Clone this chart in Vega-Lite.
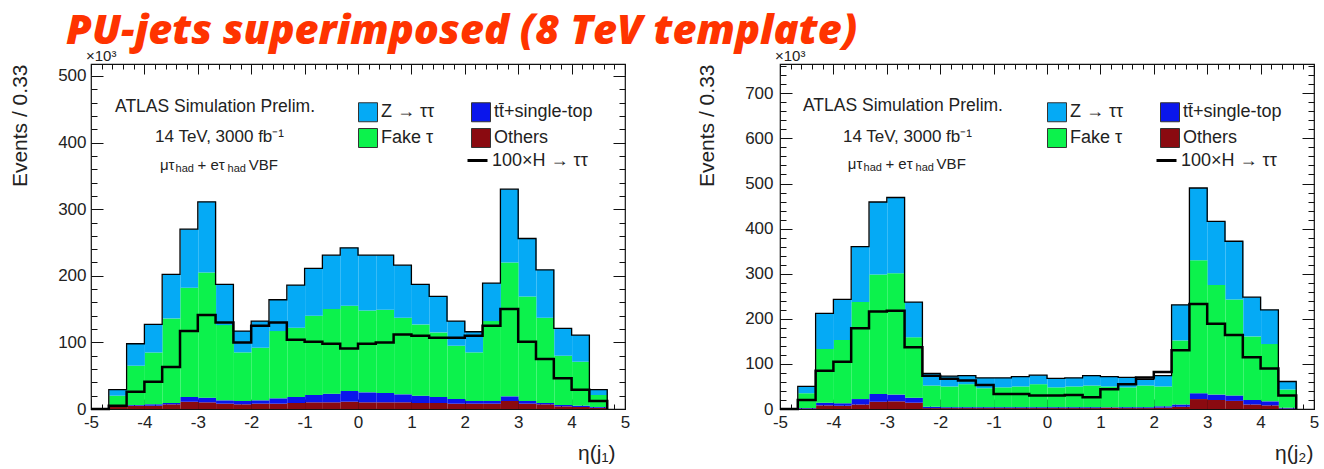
{
  "$schema": "https://vega.github.io/schema/vega-lite/v6.json",
  "background": "white",
  "padding": {"left": 9, "top": 11, "right": 4, "bottom": 0},
  "title": {"text": "PU-jets superimposed (8 TeV template)", "anchor": "start", "frame": "bounds", "font": "Open Sans", "fontSize": 41.5, "fontStyle": "italic", "fontWeight": 800, "color": "#FF3300", "dx": 57, "dy": 5, "offset": 0},
  "spacing": 155,
  "bounds": "flush",
  "resolve": {"scale": {"color": "independent", "stroke": "independent"}, "legend": {"color": "independent", "stroke": "independent"}},
  "config": {
    "view": {"stroke": "#111", "strokeWidth": 1.2},
    "axis": {"domain": false, "grid": false, "tickColor": "#111", "tickWidth": 1, "labelFont": "Liberation Sans", "labelFontSize": 17, "labelColor": "#222", "titleFont": "Liberation Sans", "titleFontWeight": "normal", "titleColor": "#222", "labelFlush": false, "labelOverlap": false},
    "legend": {"labelFont": "Liberation Sans", "labelFontSize": 18, "labelColor": "#222", "title": null},
    "title": {"font": "Liberation Sans", "fontWeight": "normal", "color": "#222"}
  },
  "datasets": {
    "left": [
      {"lo": -5, "hi": -4.667, "Z": 0, "Fake": 0, "TT": 0, "Other": 0, "H": 0},
      {"lo": -4.667, "hi": -4.333, "Z": 9, "Fake": 16, "TT": 1, "Other": 3, "H": 5},
      {"lo": -4.333, "hi": -4, "Z": 33, "Fake": 59, "TT": 1, "Other": 5, "H": 26},
      {"lo": -4, "hi": -3.667, "Z": 42, "Fake": 78, "TT": 2, "Other": 5, "H": 41},
      {"lo": -3.667, "hi": -3.333, "Z": 66, "Fake": 127, "TT": 2, "Other": 7, "H": 63},
      {"lo": -3.333, "hi": -3, "Z": 88, "Fake": 164, "TT": 7, "Other": 11, "H": 117},
      {"lo": -3, "hi": -2.667, "Z": 106, "Fake": 188, "TT": 7, "Other": 10, "H": 141},
      {"lo": -2.667, "hi": -2.333, "Z": 61, "Fake": 113, "TT": 5, "Other": 8, "H": 130},
      {"lo": -2.333, "hi": -2, "Z": 32, "Fake": 73, "TT": 5, "Other": 7, "H": 100},
      {"lo": -2, "hi": -1.667, "Z": 40, "Fake": 79, "TT": 5, "Other": 8, "H": 125},
      {"lo": -1.667, "hi": -1.333, "Z": 47, "Fake": 101, "TT": 8, "Other": 8, "H": 130},
      {"lo": -1.333, "hi": -1, "Z": 64, "Fake": 104, "TT": 9, "Other": 9, "H": 104},
      {"lo": -1, "hi": -0.667, "Z": 71, "Fake": 119, "TT": 11, "Other": 10, "H": 101},
      {"lo": -0.667, "hi": -0.333, "Z": 81, "Fake": 127, "TT": 13, "Other": 10, "H": 98},
      {"lo": -0.333, "hi": 0, "Z": 87, "Fake": 128, "TT": 16, "Other": 11, "H": 91},
      {"lo": 0, "hi": 0.333, "Z": 83, "Fake": 123, "TT": 15, "Other": 10, "H": 98},
      {"lo": 0.333, "hi": 0.667, "Z": 82, "Fake": 125, "TT": 14, "Other": 10, "H": 100},
      {"lo": 0.667, "hi": 1, "Z": 79, "Fake": 115, "TT": 12, "Other": 10, "H": 112},
      {"lo": 1, "hi": 1.333, "Z": 60, "Fake": 107, "TT": 11, "Other": 9, "H": 110},
      {"lo": 1.333, "hi": 1.667, "Z": 54, "Fake": 97, "TT": 9, "Other": 9, "H": 107},
      {"lo": 1.667, "hi": 2, "Z": 37, "Fake": 80, "TT": 7, "Other": 8, "H": 107},
      {"lo": 2, "hi": 2.333, "Z": 31, "Fake": 73, "TT": 4, "Other": 8, "H": 110},
      {"lo": 2.333, "hi": 2.667, "Z": 57, "Fake": 120, "TT": 4, "Other": 8, "H": 125},
      {"lo": 2.667, "hi": 3, "Z": 110, "Fake": 201, "TT": 7, "Other": 12, "H": 150},
      {"lo": 3, "hi": 3.333, "Z": 87, "Fake": 157, "TT": 4, "Other": 8, "H": 101},
      {"lo": 3.333, "hi": 3.667, "Z": 72, "Fake": 128, "TT": 2, "Other": 7, "H": 75},
      {"lo": 3.667, "hi": 4, "Z": 41, "Fake": 74, "TT": 2, "Other": 4, "H": 46},
      {"lo": 4, "hi": 4.333, "Z": 40, "Fake": 66, "TT": 2, "Other": 3, "H": 29},
      {"lo": 4.333, "hi": 4.667, "Z": 8, "Fake": 18, "TT": 1, "Other": 2, "H": 12},
      {"lo": 4.667, "hi": 5, "Z": 0, "Fake": 0, "TT": 0, "Other": 0, "H": 0}
    ],
    "right": [
      {"lo": -5, "hi": -4.667, "Z": 0, "Fake": 0, "TT": 0, "Other": 0, "H": 0},
      {"lo": -4.667, "hi": -4.333, "Z": 15, "Fake": 33, "TT": 1, "Other": 1, "H": 20},
      {"lo": -4.333, "hi": -4, "Z": 79, "Fake": 119, "TT": 6, "Other": 8, "H": 85},
      {"lo": -4, "hi": -3.667, "Z": 90, "Fake": 140, "TT": 6, "Other": 7, "H": 105},
      {"lo": -3.667, "hi": -3.333, "Z": 123, "Fake": 215, "TT": 12, "Other": 10, "H": 179},
      {"lo": -3.333, "hi": -3, "Z": 161, "Fake": 265, "TT": 17, "Other": 16, "H": 216},
      {"lo": -3, "hi": -2.667, "Z": 168, "Fake": 269, "TT": 15, "Other": 17, "H": 218},
      {"lo": -2.667, "hi": -2.333, "Z": 78, "Fake": 134, "TT": 11, "Other": 14, "H": 137},
      {"lo": -2.333, "hi": -2, "Z": 27, "Fake": 47, "TT": 3, "Other": 2, "H": 74},
      {"lo": -2, "hi": -1.667, "Z": 23, "Fake": 46, "TT": 2, "Other": 2, "H": 67},
      {"lo": -1.667, "hi": -1.333, "Z": 19, "Fake": 51, "TT": 2, "Other": 2, "H": 63},
      {"lo": -1.333, "hi": -1, "Z": 23, "Fake": 42, "TT": 2, "Other": 2, "H": 53},
      {"lo": -1, "hi": -0.667, "Z": 21, "Fake": 44, "TT": 2, "Other": 2, "H": 33},
      {"lo": -0.667, "hi": -0.333, "Z": 22, "Fake": 46, "TT": 2, "Other": 2, "H": 33},
      {"lo": -0.333, "hi": 0, "Z": 20, "Fake": 51, "TT": 2, "Other": 2, "H": 30},
      {"lo": 0, "hi": 0.333, "Z": 20, "Fake": 44, "TT": 2, "Other": 2, "H": 30},
      {"lo": 0.333, "hi": 0.667, "Z": 19, "Fake": 46, "TT": 2, "Other": 2, "H": 31},
      {"lo": 0.667, "hi": 1, "Z": 22, "Fake": 48, "TT": 2, "Other": 2, "H": 26},
      {"lo": 1, "hi": 1.333, "Z": 22, "Fake": 46, "TT": 1, "Other": 3, "H": 44},
      {"lo": 1.333, "hi": 1.667, "Z": 22, "Fake": 44, "TT": 2, "Other": 2, "H": 55},
      {"lo": 1.667, "hi": 2, "Z": 14, "Fake": 48, "TT": 2, "Other": 2, "H": 70},
      {"lo": 2, "hi": 2.333, "Z": 24, "Fake": 44, "TT": 3, "Other": 3, "H": 82},
      {"lo": 2.333, "hi": 2.667, "Z": 79, "Fake": 142, "TT": 5, "Other": 5, "H": 130},
      {"lo": 2.667, "hi": 3, "Z": 160, "Fake": 295, "TT": 13, "Other": 22, "H": 233},
      {"lo": 3, "hi": 3.333, "Z": 141, "Fake": 243, "TT": 12, "Other": 20, "H": 189},
      {"lo": 3.333, "hi": 3.667, "Z": 129, "Fake": 213, "TT": 12, "Other": 18, "H": 164},
      {"lo": 3.667, "hi": 4, "Z": 87, "Fake": 141, "TT": 10, "Other": 10, "H": 115},
      {"lo": 4, "hi": 4.333, "Z": 76, "Fake": 127, "TT": 9, "Other": 8, "H": 90},
      {"lo": 4.333, "hi": 4.667, "Z": 18, "Fake": 40, "TT": 2, "Other": 1, "H": 30},
      {"lo": 4.667, "hi": 5, "Z": 0, "Fake": 0, "TT": 0, "Other": 0, "H": 0}
    ]
  },
  "hconcat": [
    {
      "width": 534, "height": 345,
      "title": {"text": "×10³", "anchor": "start", "frame": "group", "fontSize": 15, "dx": -5, "offset": 0},
      "data": {"name": "left"},
      "resolve": {"axis": {"x": "independent", "y": "independent"}},
      "layer": [
        {
          "transform": [
            {"fold": ["Other", "TT", "Fake", "Z"], "as": ["proc", "v"]},
            {"window": [{"op": "row_number", "as": "k"}], "groupby": ["lo"]}
          ],
          "mark": {"type": "bar", "binSpacing": 0},
          "encoding": {
            "x": {"field": "lo", "type": "quantitative", "bin": {"binned": true, "step": 0.3333}, "scale": {"domain": [-5, 5], "nice": false, "zero": false},
              "axis": {"orient": "bottom", "values": [-5, -4, -3, -2, -1, 0, 1, 2, 3, 4, 5], "tickSize": -10, "labelPadding": 15, "labelExpr": "datum.value < 0 ? '-' + abs(datum.value) : '' + datum.value", "title": "η(j₁)", "titleAnchor": "end", "titleAlign": "right", "titleX": 524, "titleFontSize": 21, "titlePadding": 12}},
            "x2": {"field": "hi"},
            "y": {"field": "v", "type": "quantitative", "stack": "zero", "scale": {"domain": [0, 518], "nice": false},
              "axis": {"orient": "left", "values": [0, 100, 200, 300, 400, 500], "tickSize": -12, "labelPadding": 17, "title": "Events / 0.33", "titleAnchor": "end", "titleFontSize": 21, "titlePadding": 27}},
            "color": {"field": "proc", "type": "nominal", "scale": {"domain": ["Z", "Fake", "TT", "Other"], "range": ["#05AAF5", "#0CF24C", "#0A16EC", "#8A0A10"]},
              "legend": {"orient": "none", "legendX": 267, "legendY": 38, "columns": 2, "columnPadding": 34, "rowPadding": 2, "symbolType": "square", "symbolSize": 361, "labelOffset": 3, "gridAlign": "each",
                "labelExpr": "{'Z': 'Z → ττ', 'TT': 'tt̄+single-top', 'Fake': 'Fake τ', 'Other': 'Others'}[datum.label]",
                "encode": {"symbols": {"update": {"stroke": {"value": "#333"}, "strokeWidth": {"value": 1}}}}}},
            "order": {"field": "k", "type": "quantitative"}
          }
        },
        {
          "transform": [
            {"fold": ["Other", "TT", "Fake", "Z"], "as": ["proc", "v"]},
            {"aggregate": [{"op": "sum", "field": "v", "as": "total"}], "groupby": ["lo"]}
          ],
          "mark": {"type": "line", "interpolate": "step-after", "color": "#000", "strokeWidth": 1.3},
          "encoding": {
            "x": {"field": "lo", "type": "quantitative", "scale": {"domain": [-5, 5], "nice": false, "zero": false},
              "axis": {"orient": "bottom", "values": [-5,-4.8,-4.6,-4.4,-4.2,-4,-3.8,-3.6,-3.4,-3.2,-3,-2.8,-2.6,-2.4,-2.2,-2,-1.8,-1.6,-1.4,-1.2,-1,-0.8,-0.6,-0.4,-0.2,0,0.2,0.4,0.6,0.8,1,1.2,1.4,1.6,1.8,2,2.2,2.4,2.6,2.8,3,3.2,3.4,3.6,3.8,4,4.2,4.4,4.6,4.8,5], "tickSize": -5, "labels": false, "title": null}},
            "y": {"field": "total", "type": "quantitative", "scale": {"domain": [0, 518], "nice": false},
              "axis": {"orient": "left", "values": [0,20,40,60,80,100,120,140,160,180,200,220,240,260,280,300,320,340,360,380,400,420,440,460,480,500], "tickSize": -6, "labels": false, "title": null}}
          }
        },
        {
          "mark": {"type": "line", "interpolate": "step-after", "strokeWidth": 2.5},
          "encoding": {
            "x": {"field": "lo", "type": "quantitative", "scale": {"domain": [-5, 5], "nice": false, "zero": false},
              "axis": {"orient": "top", "values": [-5, -4, -3, -2, -1, 0, 1, 2, 3, 4, 5], "tickSize": -10, "labels": false, "title": null}},
            "y": {"field": "H", "type": "quantitative", "scale": {"domain": [0, 518], "nice": false},
              "axis": {"orient": "right", "values": [0, 100, 200, 300, 400, 500], "tickSize": -12, "labels": false, "title": null}},
            "stroke": {"datum": "100×H → ττ", "type": "nominal", "scale": {"range": ["#000"]},
              "legend": {"orient": "none", "legendX": 375, "legendY": 85, "symbolType": "stroke", "symbolSize": 400, "symbolStrokeWidth": 3, "labelOffset": 3}}
          }
        },
        {
          "data": {"values": [{}]},
          "mark": {"type": "text", "align": "left", "baseline": "middle", "font": "Liberation Sans", "fontSize": 17.5, "color": "#222"},
          "encoding": {
            "x": {"datum": -4.55, "type": "quantitative", "scale": {"domain": [-5, 5], "nice": false, "zero": false},
              "axis": {"orient": "top", "values": [-5,-4.8,-4.6,-4.4,-4.2,-4,-3.8,-3.6,-3.4,-3.2,-3,-2.8,-2.6,-2.4,-2.2,-2,-1.8,-1.6,-1.4,-1.2,-1,-0.8,-0.6,-0.4,-0.2,0,0.2,0.4,0.6,0.8,1,1.2,1.4,1.6,1.8,2,2.2,2.4,2.6,2.8,3,3.2,3.4,3.6,3.8,4,4.2,4.4,4.6,4.8,5], "tickSize": -5, "labels": false, "title": null}},
            "y": {"datum": 453, "type": "quantitative", "scale": {"domain": [0, 518], "nice": false},
              "axis": {"orient": "right", "values": [0,20,40,60,80,100,120,140,160,180,200,220,240,260,280,300,320,340,360,380,400,420,440,460,480,500], "tickSize": -6, "labels": false, "title": null}},
            "text": {"value": "ATLAS Simulation Prelim."}
          }
        },
        {
          "data": {"values": [{}]},
          "mark": {"type": "text", "align": "left", "baseline": "middle", "font": "Liberation Sans", "fontSize": 17, "color": "#222"},
          "encoding": {
            "x": {"datum": -3.8, "type": "quantitative", "axis": null},
            "y": {"datum": 408, "type": "quantitative", "axis": null},
            "text": {"value": "14 TeV, 3000 fb⁻¹"}
          }
        },
        {
          "data": {"values": [{}]},
          "mark": {"type": "text", "align": "left", "baseline": "middle", "font": "Liberation Sans", "fontSize": 15, "color": "#222"},
          "encoding": {"x": {"datum": -3.71, "type": "quantitative", "axis": null}, "y": {"datum": 367, "type": "quantitative", "axis": null}, "text": {"value": "μτ"}}
        },
        {
          "data": {"values": [{}]},
          "mark": {"type": "text", "align": "left", "baseline": "middle", "font": "Liberation Sans", "fontSize": 11, "color": "#222", "dx": 15.7, "dy": 4.5},
          "encoding": {"x": {"datum": -3.71, "type": "quantitative", "axis": null}, "y": {"datum": 367, "type": "quantitative", "axis": null}, "text": {"value": "had"}}
        },
        {
          "data": {"values": [{}]},
          "mark": {"type": "text", "align": "left", "baseline": "middle", "font": "Liberation Sans", "fontSize": 15, "color": "#222", "dx": 37.6},
          "encoding": {"x": {"datum": -3.71, "type": "quantitative", "axis": null}, "y": {"datum": 367, "type": "quantitative", "axis": null}, "text": {"value": "+ eτ"}}
        },
        {
          "data": {"values": [{}]},
          "mark": {"type": "text", "align": "left", "baseline": "middle", "font": "Liberation Sans", "fontSize": 11, "color": "#222", "dx": 67.7, "dy": 4.5},
          "encoding": {"x": {"datum": -3.71, "type": "quantitative", "axis": null}, "y": {"datum": 367, "type": "quantitative", "axis": null}, "text": {"value": "had"}}
        },
        {
          "data": {"values": [{}]},
          "mark": {"type": "text", "align": "left", "baseline": "middle", "font": "Liberation Sans", "fontSize": 15, "color": "#222", "dx": 88.8},
          "encoding": {"x": {"datum": -3.71, "type": "quantitative", "axis": null}, "y": {"datum": 367, "type": "quantitative", "axis": null}, "text": {"value": "VBF"}}
        }
      ]
    },
    {
      "width": 534, "height": 345,
      "title": {"text": "×10³", "anchor": "start", "frame": "group", "fontSize": 15, "dx": -5, "offset": 0},
      "data": {"name": "right"},
      "resolve": {"axis": {"x": "independent", "y": "independent"}},
      "layer": [
        {
          "transform": [
            {"fold": ["Other", "TT", "Fake", "Z"], "as": ["proc", "v"]},
            {"window": [{"op": "row_number", "as": "k"}], "groupby": ["lo"]}
          ],
          "mark": {"type": "bar", "binSpacing": 0},
          "encoding": {
            "x": {"field": "lo", "type": "quantitative", "bin": {"binned": true, "step": 0.3333}, "scale": {"domain": [-5, 5], "nice": false, "zero": false},
              "axis": {"orient": "bottom", "values": [-5, -4, -3, -2, -1, 0, 1, 2, 3, 4, 5], "tickSize": -10, "labelPadding": 15, "labelExpr": "datum.value < 0 ? '-' + abs(datum.value) : '' + datum.value", "title": "η(j₂)", "titleAnchor": "end", "titleAlign": "right", "titleX": 533, "titleFontSize": 21, "titlePadding": 12}},
            "x2": {"field": "hi"},
            "y": {"field": "v", "type": "quantitative", "stack": "zero", "scale": {"domain": [0, 765], "nice": false},
              "axis": {"orient": "left", "values": [0, 100, 200, 300, 400, 500, 600, 700], "tickSize": -12, "labelPadding": 19, "title": "Events / 0.33", "titleAnchor": "end", "titleFontSize": 21, "titlePadding": 27}},
            "color": {"field": "proc", "type": "nominal", "scale": {"domain": ["Z", "Fake", "TT", "Other"], "range": ["#05AAF5", "#0CF24C", "#0A16EC", "#8A0A10"]},
              "legend": {"orient": "none", "legendX": 267, "legendY": 38, "columns": 2, "columnPadding": 34, "rowPadding": 2, "symbolType": "square", "symbolSize": 361, "labelOffset": 3, "gridAlign": "each",
                "labelExpr": "{'Z': 'Z → ττ', 'TT': 'tt̄+single-top', 'Fake': 'Fake τ', 'Other': 'Others'}[datum.label]",
                "encode": {"symbols": {"update": {"stroke": {"value": "#333"}, "strokeWidth": {"value": 1}}}}}},
            "order": {"field": "k", "type": "quantitative"}
          }
        },
        {
          "transform": [
            {"fold": ["Other", "TT", "Fake", "Z"], "as": ["proc", "v"]},
            {"aggregate": [{"op": "sum", "field": "v", "as": "total"}], "groupby": ["lo"]}
          ],
          "mark": {"type": "line", "interpolate": "step-after", "color": "#000", "strokeWidth": 1.3},
          "encoding": {
            "x": {"field": "lo", "type": "quantitative", "scale": {"domain": [-5, 5], "nice": false, "zero": false},
              "axis": {"orient": "bottom", "values": [-5,-4.8,-4.6,-4.4,-4.2,-4,-3.8,-3.6,-3.4,-3.2,-3,-2.8,-2.6,-2.4,-2.2,-2,-1.8,-1.6,-1.4,-1.2,-1,-0.8,-0.6,-0.4,-0.2,0,0.2,0.4,0.6,0.8,1,1.2,1.4,1.6,1.8,2,2.2,2.4,2.6,2.8,3,3.2,3.4,3.6,3.8,4,4.2,4.4,4.6,4.8,5], "tickSize": -5, "labels": false, "title": null}},
            "y": {"field": "total", "type": "quantitative", "scale": {"domain": [0, 765], "nice": false},
              "axis": {"orient": "left", "values": [0,20,40,60,80,100,120,140,160,180,200,220,240,260,280,300,320,340,360,380,400,420,440,460,480,500,520,540,560,580,600,620,640,660,680,700,720,740,760], "tickSize": -6, "labels": false, "title": null}}
          }
        },
        {
          "mark": {"type": "line", "interpolate": "step-after", "strokeWidth": 2.5},
          "encoding": {
            "x": {"field": "lo", "type": "quantitative", "scale": {"domain": [-5, 5], "nice": false, "zero": false},
              "axis": {"orient": "top", "values": [-5, -4, -3, -2, -1, 0, 1, 2, 3, 4, 5], "tickSize": -10, "labels": false, "title": null}},
            "y": {"field": "H", "type": "quantitative", "scale": {"domain": [0, 765], "nice": false},
              "axis": {"orient": "right", "values": [0, 100, 200, 300, 400, 500, 600, 700], "tickSize": -12, "labels": false, "title": null}},
            "stroke": {"datum": "100×H → ττ", "type": "nominal", "scale": {"range": ["#000"]},
              "legend": {"orient": "none", "legendX": 375, "legendY": 85, "symbolType": "stroke", "symbolSize": 400, "symbolStrokeWidth": 3, "labelOffset": 3}}
          }
        },
        {
          "data": {"values": [{}]},
          "mark": {"type": "text", "align": "left", "baseline": "middle", "font": "Liberation Sans", "fontSize": 17.5, "color": "#222"},
          "encoding": {
            "x": {"datum": -4.57, "type": "quantitative", "scale": {"domain": [-5, 5], "nice": false, "zero": false},
              "axis": {"orient": "top", "values": [-5,-4.8,-4.6,-4.4,-4.2,-4,-3.8,-3.6,-3.4,-3.2,-3,-2.8,-2.6,-2.4,-2.2,-2,-1.8,-1.6,-1.4,-1.2,-1,-0.8,-0.6,-0.4,-0.2,0,0.2,0.4,0.6,0.8,1,1.2,1.4,1.6,1.8,2,2.2,2.4,2.6,2.8,3,3.2,3.4,3.6,3.8,4,4.2,4.4,4.6,4.8,5], "tickSize": -5, "labels": false, "title": null}},
            "y": {"datum": 671, "type": "quantitative", "scale": {"domain": [0, 765], "nice": false},
              "axis": {"orient": "right", "values": [0,20,40,60,80,100,120,140,160,180,200,220,240,260,280,300,320,340,360,380,400,420,440,460,480,500,520,540,560,580,600,620,640,660,680,700,720,740,760], "tickSize": -6, "labels": false, "title": null}},
            "text": {"value": "ATLAS Simulation Prelim."}
          }
        },
        {
          "data": {"values": [{}]},
          "mark": {"type": "text", "align": "left", "baseline": "middle", "font": "Liberation Sans", "fontSize": 17, "color": "#222"},
          "encoding": {
            "x": {"datum": -3.82, "type": "quantitative", "axis": null},
            "y": {"datum": 604, "type": "quantitative", "axis": null},
            "text": {"value": "14 TeV, 3000 fb⁻¹"}
          }
        },
        {
          "data": {"values": [{}]},
          "mark": {"type": "text", "align": "left", "baseline": "middle", "font": "Liberation Sans", "fontSize": 15, "color": "#222"},
          "encoding": {"x": {"datum": -3.73, "type": "quantitative", "axis": null}, "y": {"datum": 544, "type": "quantitative", "axis": null}, "text": {"value": "μτ"}}
        },
        {
          "data": {"values": [{}]},
          "mark": {"type": "text", "align": "left", "baseline": "middle", "font": "Liberation Sans", "fontSize": 11, "color": "#222", "dx": 15.7, "dy": 4.5},
          "encoding": {"x": {"datum": -3.73, "type": "quantitative", "axis": null}, "y": {"datum": 544, "type": "quantitative", "axis": null}, "text": {"value": "had"}}
        },
        {
          "data": {"values": [{}]},
          "mark": {"type": "text", "align": "left", "baseline": "middle", "font": "Liberation Sans", "fontSize": 15, "color": "#222", "dx": 37.6},
          "encoding": {"x": {"datum": -3.73, "type": "quantitative", "axis": null}, "y": {"datum": 544, "type": "quantitative", "axis": null}, "text": {"value": "+ eτ"}}
        },
        {
          "data": {"values": [{}]},
          "mark": {"type": "text", "align": "left", "baseline": "middle", "font": "Liberation Sans", "fontSize": 11, "color": "#222", "dx": 67.7, "dy": 4.5},
          "encoding": {"x": {"datum": -3.73, "type": "quantitative", "axis": null}, "y": {"datum": 544, "type": "quantitative", "axis": null}, "text": {"value": "had"}}
        },
        {
          "data": {"values": [{}]},
          "mark": {"type": "text", "align": "left", "baseline": "middle", "font": "Liberation Sans", "fontSize": 15, "color": "#222", "dx": 88.8},
          "encoding": {"x": {"datum": -3.73, "type": "quantitative", "axis": null}, "y": {"datum": 544, "type": "quantitative", "axis": null}, "text": {"value": "VBF"}}
        }
      ]
    }
  ]
}
